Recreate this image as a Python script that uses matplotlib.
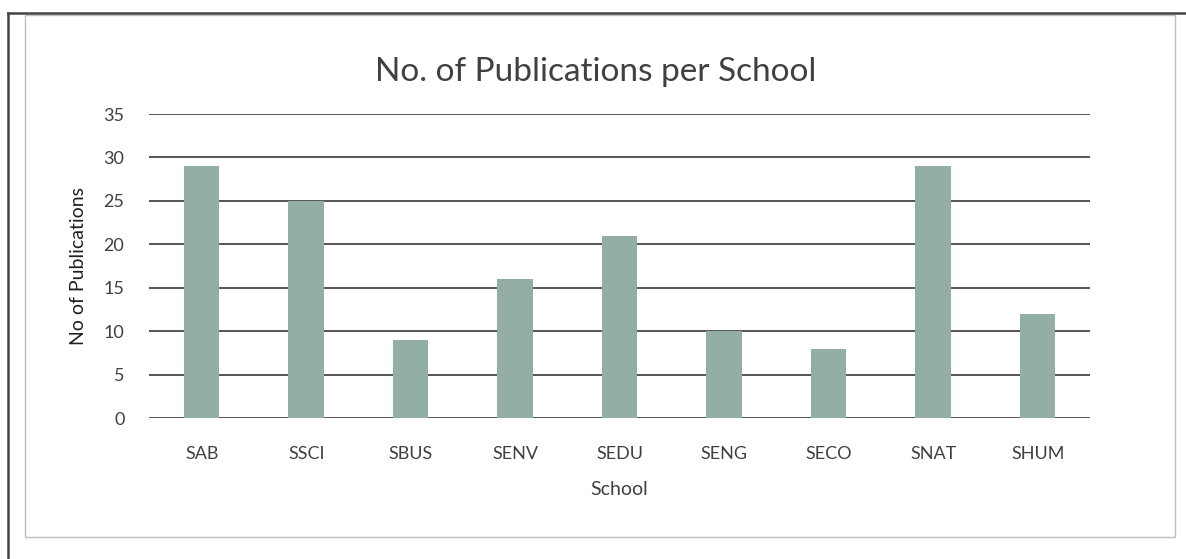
import matplotlib
matplotlib.use("Agg")
import matplotlib.pyplot as plt
from matplotlib.lines import Line2D
from matplotlib.patches import Rectangle

schools = ["SAB", "SSCI", "SBUS", "SENV", "SEDU", "SENG", "SECO", "SNAT", "SHUM"]
publications = [29, 25, 9, 16, 21, 10, 8, 29, 12]
y_ticks = [0, 5, 10, 15, 20, 25, 30, 35]

plt.rcParams['font.family'] = ['Lato', 'DejaVu Sans']

fig = plt.figure(figsize=(11.86, 5.59), dpi=100)
ax = fig.add_axes([0.126, 0.252, 0.793, 0.544])

ax.bar(schools, publications, width=0.34, color='#92aea7', zorder=3)

ax.set_ylim(0, 35)
ax.set_xlim(-0.5, len(schools) - 0.5)
ax.set_yticks(y_ticks)
ax.grid(axis='y', color='#555555', linewidth=1.4, zorder=0)
ax.tick_params(length=0, labelsize=13, colors='#404040')
ax.tick_params(axis='y', pad=18)
ax.tick_params(axis='x', pad=20)
for s in ax.spines.values():
    s.set_visible(False)

ax.set_title("No. of Publications per School", fontsize=24, color='#404040',
             pad=24, x=0.475)
ax.set_xlabel("School", fontsize=14, color='#404040', labelpad=14)
ax.set_ylabel("No of Publications", fontsize=14, color='#202020', labelpad=12)

# scanned page borders
fig.add_artist(Rectangle((0.021, 0.04), 0.97, 0.933, transform=fig.transFigure,
                         fill=False, edgecolor='#c0c0c0', linewidth=1.0))
fig.add_artist(Line2D([0.007, 0.007], [0.0, 0.977], transform=fig.transFigure,
                      color='#444444', linewidth=1.8))
fig.add_artist(Line2D([0.007, 1.0], [0.977, 0.977], transform=fig.transFigure,
                      color='#444444', linewidth=1.8))

fig.savefig("out.png", dpi=100)
